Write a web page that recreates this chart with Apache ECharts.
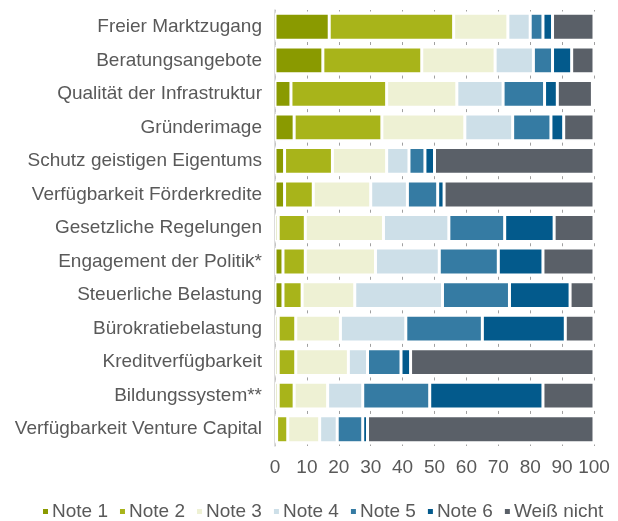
<!DOCTYPE html>
<html>
<head>
<meta charset="utf-8">
<script src="https://cdn.jsdelivr.net/npm/echarts@6/dist/echarts.min.js"></script>
<style>
  html, body { margin: 0; padding: 0; background: #fff; }
  #chart { width: 618px; height: 521px; }
</style>
</head>
<body>
<div id="chart"></div>
<script>
// Kategorien von oben nach unten
const categories = [
  'Freier Marktzugang',
  'Beratungsangebote',
  'Qualität der Infrastruktur',
  'Gründerimage',
  'Schutz geistigen Eigentums',
  'Verfügbarkeit Förderkredite',
  'Gesetzliche Regelungen',
  'Engagement der Politik*',
  'Steuerliche Belastung',
  'Bürokratiebelastung',
  'Kreditverfügbarkeit',
  'Bildungssystem**',
  'Verfügbarkeit Venture Capital'
]

const seriesNames = ['Note 1', 'Note 2', 'Note 3', 'Note 4', 'Note 5', 'Note 6', 'Weiß nicht']

// Anteile in Prozent, gleiche Reihenfolge wie categories
const note1 = [17, 15, 5, 6, 3, 3, 1, 2.5, 2.5, 1, 1, 1, 0.5]
const note2 = [39, 31, 30, 27.5, 15, 9, 8.5, 7, 6, 5.5, 5.5, 5, 3.5]
const note3 = [17, 23, 22, 26, 17, 18, 24.5, 22, 16.5, 14, 16.5, 10.5, 10]
const note4 = [7, 12, 14.5, 15, 7, 11.5, 20.5, 20, 27.5, 20.5, 6, 11, 5.5]
const note5 = [4, 6, 13, 12, 5, 9.5, 17.5, 18.5, 21, 24, 10.5, 21, 8]
const note6 = [3, 6, 4, 4, 3, 2, 15.5, 14, 19, 26, 3, 35.5, 1.5]
const weissNicht = [13, 7, 11, 9.5, 50, 47, 12.5, 16, 7.5, 9, 57.5, 16, 71]

const xTicks = [0, 10, 20, 30, 40, 50, 60, 70, 80, 90, 100]

const colors = ['#8a9a00', '#a8b41a', '#eef1d4', '#cddfe8', '#357ba3', '#035a8c', '#5a6068']
const seriesData = [note1, note2, note3, note4, note5, note6, weissNicht]

const chart = echarts.init(document.getElementById('chart'), null, { renderer: 'canvas' })

// Zeilenabstand, damit die kurzen Gitterstriche in den Lücken liegen
const gridTop = 10
const gridBottom = 75
const rowPitch = (521 - gridTop - gridBottom) / categories.length

const option = {
  animation: false,
  color: colors,
  textStyle: { fontFamily: 'Liberation Sans, Arial, sans-serif' },
  grid: { left: 275, right: 24, top: gridTop, bottom: gridBottom, containLabel: false },
  legend: {
    top: 497,
    left: 36,
    icon: 'rect',
    itemWidth: 7,
    itemHeight: 7,
    itemGap: 10,
    textStyle: { fontSize: 19, color: '#595959', padding: [0, 0, 0, -2] },
    data: seriesNames
  },
  xAxis: {
    type: 'value',
    min: xTicks[0],
    max: xTicks[xTicks.length - 1],
    interval: 10,
    axisLine: { show: false },
    axisTick: { show: false },
    axisLabel: { fontSize: 19, color: '#595959', margin: 12, hideOverlap: false },
    splitLine: {
      show: true,
      lineStyle: { color: '#a0a0a0', width: 1, type: [3, rowPitch - 3], dashOffset: 1.5 }
    }
  },
  yAxis: {
    type: 'category',
    inverse: true,
    data: categories,
    axisLine: { show: true, lineStyle: { color: '#d0d0d0', width: 1.5 } },
    axisTick: { show: false },
    axisLabel: { fontSize: 19, color: '#595959', margin: 13 }
  },
  series: seriesNames.map((name, i) => ({
    name: name,
    type: 'bar',
    stack: 'total',
    barCategoryGap: '20%',
    itemStyle: { borderColor: '#fff', borderWidth: 1.5 },
    data: seriesData[i]
  }))
}

chart.setOption(option)
</script>
</body>
</html>
